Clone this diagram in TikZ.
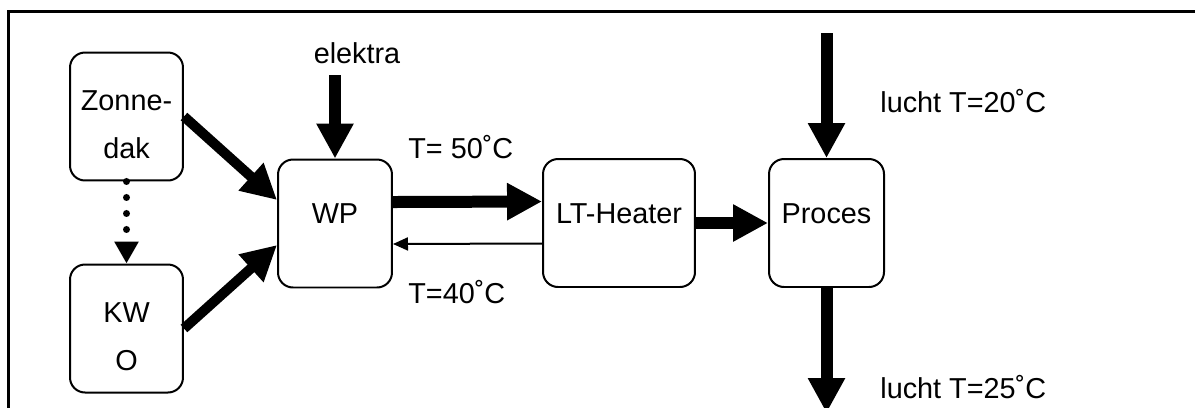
\documentclass[tikz,border=0pt]{standalone}
\usepackage{fontspec}
\setmainfont{Liberation Sans}
\usetikzlibrary{arrows.meta}

\begin{document}
\begin{tikzpicture}[x=0.02cm, y=-0.02cm,
  blok/.style={draw, line width=0.04cm, rounded corners=0.3cm,
    minimum width=2.28cm, minimum height=2.56cm, inner sep=0pt,
    align=center, text height=0.4cm, text depth=0.4cm,
    font=\fontsize{16.4pt}{26.8pt}\selectfont},
  blok2/.style={blok, text height=1.66cm, text depth=0pt},
  tekst/.style={anchor=base west, inner sep=0pt,
    font=\fontsize{16.4pt}{20pt}\selectfont},
  pijl/.style={-{Triangle[length=0.7cm, width=0.7cm]}, line width=0.24cm},
  dunnepijl/.style={-{Triangle[length=0.3cm, width=0.26cm]}, line width=0.04cm},
  stippelpijl/.style={-{Triangle[length=0.44cm, width=0.46cm]},
    line width=0.14cm, line cap=round, dash pattern=on 0pt off 0.32cm},
]
  \useasboundingbox (0,0) rectangle (1195,407);
  \clip (0,0) rectangle (1195,407);
  % kader
  \draw[line width=0.05cm] (8.5,430) -- (8.5,11.5) -- (1210,11.5);
  % blokken
  \node[blok2, minimum width=2.26cm] (zon) at (126.5,116.5) {Zonne-\\dak};
  \node[blok2, minimum width=2.26cm] (kwo) at (126.5,328.5) {KW\\O};
  \node[blok] (wp) at (335,223.5) {WP};
  \node[blok, minimum width=3.04cm] (lt) at (619,223) {LT-Heater};
  \node[blok, minimum width=2.3cm] (proc) at (826.5,223) {Proces};
  % losse eindpunten
  \coordinate (elek) at (335,75);
  \coordinate (luchtin) at (826.5,33);
  \coordinate (luchtuit) at (826.5,413);
  % pijlen
  \draw[pijl, line width=0.2cm] (zon.east) -- ([yshift=0.47cm]wp.west);
  \draw[pijl, line width=0.2cm] (kwo.east) -- ([yshift=-0.43cm]wp.west);
  \draw[stippelpijl] (zon.south) -- (kwo.north);
  \draw[pijl] (elek) -- (wp.north);
  \draw[pijl] ([yshift=0.43cm]wp.east) -- ([yshift=0.43cm]lt.west);
  \draw[dunnepijl] ([yshift=-0.41cm]lt.west) -- ([yshift=-0.41cm]wp.east);
  \draw[pijl] (lt.east) -- (proc.west);
  \draw[pijl] (luchtin) -- (proc.north);
  \draw[pijl] (proc.south) -- (luchtuit);
  % teksten
  \node[tekst, anchor=base] (elektra) at (357,63) {elektra};
  \node[tekst] (t50) at (408,158) {T= 50˚C};
  \node[tekst] (t40) at (408,303) {T=40˚C};
  \node[tekst] (l20) at (880,112) {lucht T=20˚C};
  \node[tekst] (l25) at (880,398) {lucht T=25˚C};
\end{tikzpicture}
\end{document}
